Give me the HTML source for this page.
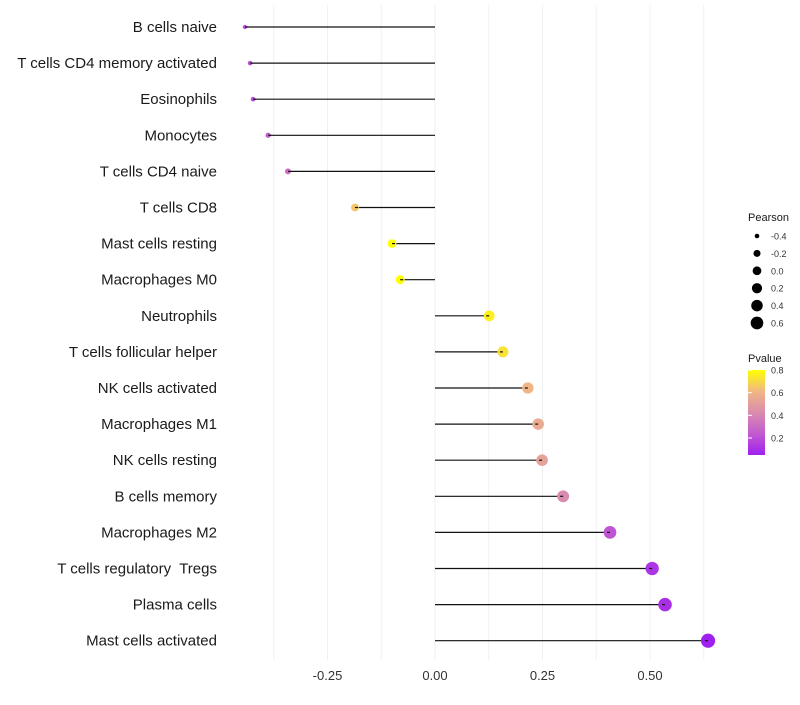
<!DOCTYPE html>
<html><head><meta charset="utf-8"><style>
body{margin:0;background:#fff}
svg{font-family:"Liberation Sans",sans-serif}
text{white-space:pre}
</style></head><body>
<svg id="c" width="800" height="700">
<defs><linearGradient id="pg" x1="0" y1="1" x2="0" y2="0">
<stop offset="0" stop-color="#a020f0"/><stop offset="0.25" stop-color="#c25ad0"/><stop offset="0.5" stop-color="#da8cae"/><stop offset="0.75" stop-color="#f0b884"/><stop offset="1" stop-color="#ffff00"/>
</linearGradient></defs>
</svg>
<script>
const categories=["B cells naive","T cells CD4 memory activated","Eosinophils","Monocytes","T cells CD4 naive","T cells CD8","Mast cells resting","Macrophages M0","Neutrophils","T cells follicular helper","NK cells activated","Macrophages M1","NK cells resting","B cells memory","Macrophages M2","T cells regulatory  Tregs","Plasma cells","Mast cells activated"];
const pearson=[-0.442,-0.430,-0.423,-0.388,-0.342,-0.186,-0.100,-0.081,0.126,0.158,0.216,0.240,0.249,0.298,0.407,0.505,0.535,0.635];
const pvalue=[0.2,0.2,0.2,0.25,0.32,0.65,0.8,0.8,0.76,0.72,0.6,0.56,0.52,0.42,0.22,0.12,0.1,0.05];
const xTicks=[-0.25,0,0.25,0.5];
const xTickLabels=["-0.25","0.00","0.25","0.50"];
const sizeLegend=[-0.4,-0.2,0.0,0.2,0.4,0.6];
const pTicks=[0.2,0.4,0.6,0.8];
const NS="http://www.w3.org/2000/svg";
const svg=document.getElementById('c');
const X=v=>435+v*430;
const Y=i=>27+i*36.1;
const R=v=>Math.sqrt(Math.max(2,19.2+34.7*v));
const stops=[[0,[160,32,240]],[0.25,[194,90,208]],[0.5,[218,140,174]],[0.75,[240,184,132]],[1,[255,255,0]]];
function col(p){let t=(p-0.05)/0.75;t=Math.max(0,Math.min(1,t));for(let i=1;i<stops.length;i++){if(t<=stops[i][0]){const a=stops[i-1],b=stops[i],f=(t-a[0])/(b[0]-a[0]);return 'rgb('+a[1].map((c,k)=>Math.round(c+(b[1][k]-c)*f)).join(',')+')';}}return 'rgb(255,255,0)';}
function el(t,a,txt){const e=document.createElementNS(NS,t);for(const k in a)e.setAttribute(k,a[k]);if(txt!==undefined)e.textContent=txt;svg.appendChild(e);return e;}
for(let v=-0.375;v<=0.63;v+=0.125){const g=el('line',{x1:X(v),x2:X(v),y1:5,y2:660,stroke:'#f0f0f0','stroke-width':1});

}
xTicks.forEach((v,i)=>{const t=el('text',{x:X(v),y:680,'text-anchor':'middle','font-size':13,fill:'#333'},xTickLabels[i]);

});
categories.forEach((c,i)=>{
const y=Y(i);
const t=el('text',{x:217,y:y+5,'text-anchor':'end','font-size':15,fill:'#1a1a1a'},c);


const l=el('line',{x1:X(0),x2:X(pearson[i]),y1:y,y2:y,stroke:'#111','stroke-width':1.2});


const p=el('circle',{cx:X(pearson[i]),cy:y,r:R(pearson[i])*1.1,fill:col(pvalue[i])});


const d=el('line',{x1:X(pearson[i]),x2:X(pearson[i])+(pearson[i]<0?3:-3),y1:y,y2:y,stroke:'#111','stroke-width':1.2});


});
const pt=el('text',{x:748,y:221,'font-size':11,fill:'#1a1a1a'},'Pearson');


sizeLegend.forEach((v,i)=>{const y=236+i*17.4;
const c=el('circle',{cx:757,cy:y,r:R(v),fill:'#000'});


const t=el('text',{x:771,y:y+3.5,'font-size':9,fill:'#333'},v.toFixed(1));

});
const ct=el('text',{x:748,y:362,'font-size':11,fill:'#1a1a1a'},'Pvalue');


const bar=el('rect',{x:748,y:370,width:17,height:85,fill:'url(#pg)'});


const PY=p=>455-(p-0.05)/0.75*85;
pTicks.forEach(p=>{
const tk=el('line',{x1:748,x2:752,y1:PY(p),y2:PY(p),stroke:'#fff'});


const t=el('text',{x:771,y:PY(p)+3.5,'font-size':9,fill:'#333'},p.toFixed(1));

});
</script>
</body></html>
